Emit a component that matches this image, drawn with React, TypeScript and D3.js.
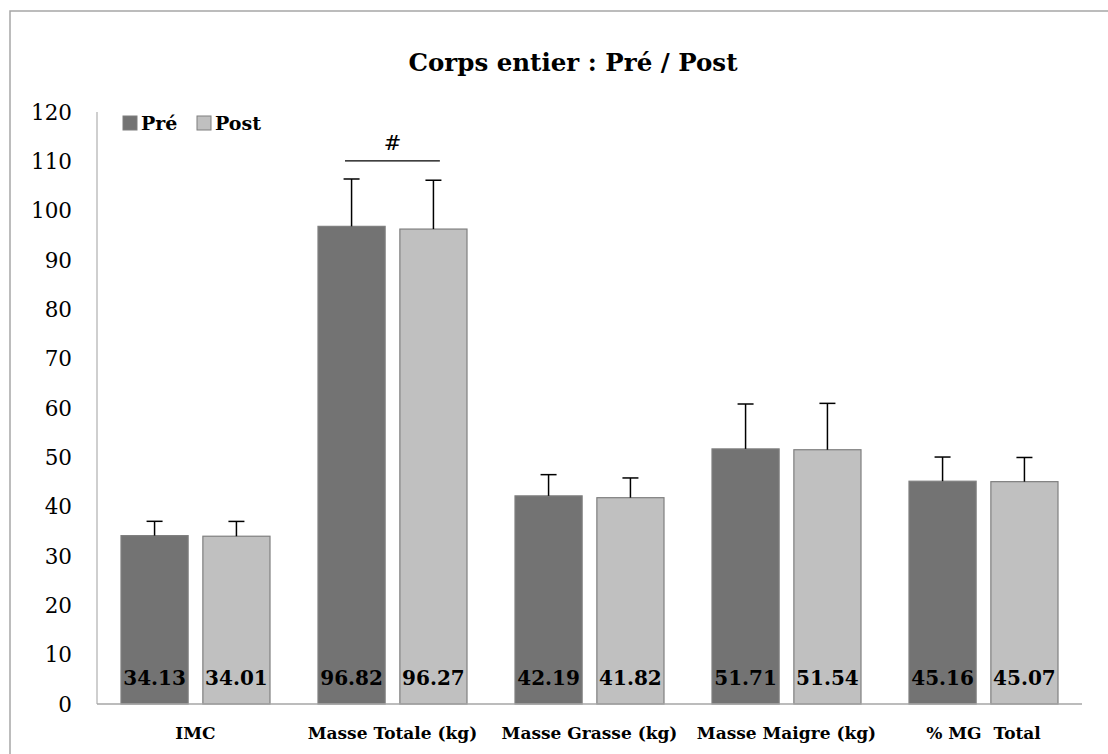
import React from "react";
import * as d3 from "d3";

const categories = ["IMC", "Masse Totale (kg)", "Masse Grasse (kg)", "Masse Maigre (kg)", "% MG  Total"];
const series = ["Pré", "Post"];
const preValues = [34.13, 96.82, 42.19, 51.71, 45.16];
const postValues = [34.01, 96.27, 41.82, 51.54, 45.07];
const preErrors = [2.9, 9.6, 4.3, 9.1, 4.9];
const postErrors = [3.0, 9.9, 4.0, 9.4, 4.9];
const yTicks = [0, 10, 20, 30, 40, 50, 60, 70, 80, 90, 100, 110, 120];
const title = "Corps entier : Pré / Post";

const W = 1108;
const H = 754;
const FONT = "'DejaVu Serif', Cambria, serif";
const colors = { "Pré": "#737373", Post: "#c0c0c0" };

export default function App() {
  const x = d3.scaleBand().domain(categories).range([97, 1082]).padding(0);
  const inner = d3
    .scaleBand()
    .domain(series)
    .range([24, x.bandwidth() - 24])
    .paddingInner(0.18);
  const y = d3.scaleLinear().domain([0, 120]).range([704, 112]);

  const rows = categories.map((c, i) => ({
    cat: c,
    bars: [
      { s: "Pré", v: preValues[i], e: preErrors[i] },
      { s: "Post", v: postValues[i], e: postErrors[i] },
    ],
  }));

  // barre de significativité (#) au-dessus de Masse Totale
  const sigCat = categories[1];
  const sigX0 = x(sigCat)! + inner("Pré")! + 27;
  const sigX1 = x(sigCat)! + inner("Post")! + 40;
  const sigY = y(110.1);

  return (
    <svg
      width={W}
      height={H}
      style={{ position: "absolute", left: 0, top: 0, background: "#fff" }}
      fontFamily={FONT}
    >
      <rect x={10} y={11} width={W + 20} height={H + 20} fill="#fff" stroke="#a6a6a6" strokeWidth={1.5} />

      <text x={573} y={71} textAnchor="middle" fontSize={24.5} fontWeight="bold">
        {title}
      </text>

      {/* axe Y */}
      <line x1={97} x2={97} y1={y(120)} y2={y(0)} stroke="#bfbfbf" strokeWidth={1.5} />
      {yTicks.map((t) => (
        <text key={t} x={72} y={y(t)} dy="0.36em" textAnchor="end" fontSize={21.5}>
          {t}
        </text>
      ))}

      {/* barres */}
      {rows.map((r) => (
        <g key={r.cat} transform={`translate(${x(r.cat)},0)`}>
          {r.bars.map((b) => {
            const bx = inner(b.s)!;
            const bw = inner.bandwidth();
            const cx = bx + bw / 2;
            return (
              <g key={b.s}>
                <rect
                  x={bx}
                  y={y(b.v)}
                  width={bw}
                  height={y(0) - y(b.v)}
                  fill={colors[b.s as "Pré" | "Post"]}
                  stroke="#7f7f7f"
                  strokeWidth={1.2}
                />
                <line x1={cx} x2={cx} y1={y(b.v)} y2={y(b.v + b.e)} stroke="#000" strokeWidth={1.5} />
                <line x1={cx - 8} x2={cx + 8} y1={y(b.v + b.e)} y2={y(b.v + b.e)} stroke="#000" strokeWidth={1.5} />
                <text x={cx} y={y(0) - 19} textAnchor="middle" fontSize={20} fontWeight="bold">
                  {b.v.toFixed(2)}
                </text>
              </g>
            );
          })}
          <text
            x={x.bandwidth() / 2}
            y={739}
            textAnchor="middle"
            fontSize={17}
            fontWeight="bold"
            style={{ whiteSpace: "pre" }}
          >
            {r.cat}
          </text>
        </g>
      ))}

      {/* axe X */}
      <line x1={97} x2={1082} y1={y(0)} y2={y(0)} stroke="#a6a6a6" strokeWidth={1.5} />

      {/* significativité */}
      <line x1={sigX0} x2={sigX1} y1={sigY} y2={sigY} stroke="#000" strokeWidth={1.2} />
      <text x={(sigX0 + sigX1) / 2} y={sigY - 11} textAnchor="middle" fontSize={21}>
        #
      </text>

      {/* légende */}
      {series.map((s, i) => {
        const lx = i === 0 ? 123 : 197;
        return (
          <g key={s} transform={`translate(${lx},116)`}>
            <rect x={0} y={0} width={14} height={14} fill={colors[s as "Pré" | "Post"]} stroke="#7f7f7f" strokeWidth={1} />
            <text x={18} y={7} dy="0.36em" fontSize={19} fontWeight="bold">
              {s}
            </text>
          </g>
        );
      })}
    </svg>
  );
}
